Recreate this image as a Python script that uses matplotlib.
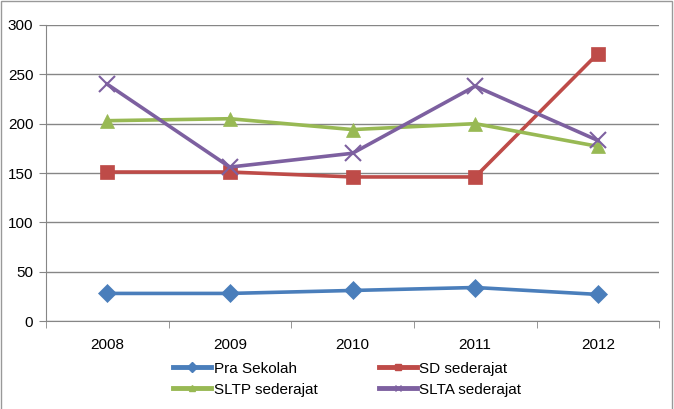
import numpy as np
import matplotlib.pyplot as plt
from matplotlib.lines import Line2D
from matplotlib.patches import Rectangle

plt.rcParams['font.family'] = ['Liberation Sans', 'DejaVu Sans']

years = ["2008", "2009", "2010", "2011", "2012"]
pra_sekolah = [28, 28, 31, 34, 27]
sd = [151, 151, 146, 146, 271]
sltp = [203, 205, 194, 200, 177]
slta = [240, 156, 170, 238, 183]

series = [
    ("Pra Sekolah", pra_sekolah, "#4A7EBB", "D", 9),
    ("SD sederajat", sd, "#BE4B48", "s", 10),
    ("SLTP sederajat", sltp, "#98B954", "^", 10),
    ("SLTA sederajat", slta, "#7D60A0", "x", 11),
]

fig = plt.figure(figsize=(6.74, 4.09), dpi=100)
ax = fig.add_axes([0.068, 0.215, 0.910, 0.724])

x = np.arange(len(years))
for name, vals, col, mk, ms in series:
    ax.plot(x, vals, color=col, lw=2.6, marker=mk, ms=ms,
            markeredgewidth=1.5 if mk == "x" else 0.5,
            markeredgecolor=col, label=name, zorder=3)

ax.set_xlim(-0.5, len(years) - 0.5)
ax.set_ylim(0, 300)
ax.set_yticks(range(0, 301, 50))
ax.set_xticks(x)
ax.set_xticklabels(years)
ax.set_xticks(np.arange(-0.5, len(years), 1), minor=True)
ax.tick_params(axis='x', which='major', length=0, pad=12, labelsize=11)
ax.tick_params(axis='x', which='minor', length=5, color='#868686')
ax.tick_params(axis='y', length=5, color='#868686', labelsize=11, pad=4)
ax.grid(axis='y', color='#868686', lw=1)
ax.set_axisbelow(True)
for s in ['top', 'right']:
    ax.spines[s].set_visible(False)
for s in ['left', 'bottom']:
    ax.spines[s].set_color('#868686')

# legend fills column by column, so reorder to get rows like the original
order = [0, 2, 1, 3]
handles = [Line2D([], [], color=series[i][2], lw=3.5, marker=series[i][3], ms=5,
                  markeredgecolor=series[i][2]) for i in order]
labels = [series[i][0] for i in order]
fig.legend(handles, labels, loc='center', ncol=2,
           bbox_to_anchor=(0.515, 0.073), frameon=False, fontsize=11,
           handlelength=2.5, handletextpad=0.15, columnspacing=4.0,
           labelspacing=0.45)

fig.patches.append(Rectangle((0.002, -0.01), 0.995, 1.007, transform=fig.transFigure,
                             fill=False, edgecolor='#999999', lw=1))

fig.savefig("out.png", dpi=100)
